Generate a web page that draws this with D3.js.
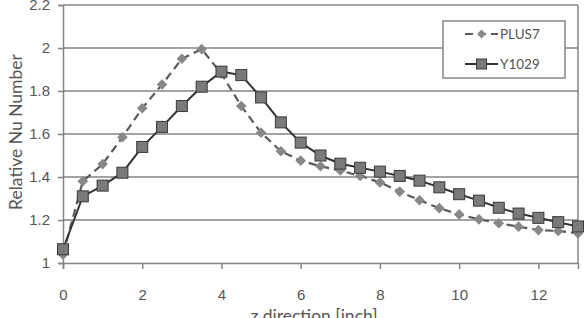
<!DOCTYPE html>
<html><head><meta charset="utf-8">
<script src="https://cdn.jsdelivr.net/npm/d3@7"></script>
<style>
body{margin:0;background:#fff;}
svg{display:block;font-family:Lato,"Open Sans",sans-serif;}
</style></head>
<body><svg id="c" width="587" height="318"></svg>
<script>
const zValues = [0,0.5,1,1.5,2,2.5,3,3.5,4,4.5,5,5.5,6,6.5,7,7.5,8,8.5,9,9.5,10,10.5,11,11.5,12,12.5,13];
const plus7 = [1.04,1.38,1.46,1.585,1.72,1.83,1.95,1.995,1.88,1.73,1.606,1.52,1.476,1.45,1.43,1.405,1.375,1.332,1.292,1.255,1.226,1.203,1.185,1.169,1.153,1.149,1.138];
const y1029 = [1.064,1.31,1.36,1.42,1.54,1.633,1.73,1.82,1.89,1.874,1.77,1.654,1.56,1.50,1.462,1.443,1.425,1.405,1.383,1.352,1.32,1.29,1.257,1.23,1.21,1.19,1.17];
const xTicks = [0,2,4,6,8,10,12];
const yTicks = [1,1.2,1.4,1.6,1.8,2,2.2];
const seriesNames = ["PLUS7","Y1029"];

const svg = d3.select("#c");
const x = d3.scaleLinear().domain([0,13]).range([63,578]);
const y = d3.scaleLinear().domain([1,2.2]).range([263,5]);
const grid = "#858585";

// gridlines
svg.append("g").selectAll("line").data(yTicks.filter(d=>d>1)).join("line")
  .attr("x1",63).attr("x2",578).attr("y1",d=>y(d)).attr("y2",d=>y(d))
  .attr("stroke",grid).attr("stroke-width",1.5);
// right border
svg.append("line").attr("x1",578).attr("x2",578).attr("y1",y(2.2)).attr("y2",y(1))
  .attr("stroke",grid).attr("stroke-width",1.5);

// axes
const xAxis = d3.axisBottom(x).tickValues(xTicks).tickSize(6).tickPadding(20).tickFormat(d3.format("d"));
const gx = svg.append("g").attr("transform",`translate(0,${y(1)})`).call(xAxis);
gx.select(".domain").attr("stroke",grid).attr("stroke-width",1.5);
gx.selectAll(".tick line").attr("stroke",grid).attr("stroke-width",1.5);
gx.selectAll("text").attr("fill","#555").style("font-size","15px");

const yAxis = d3.axisLeft(y).tickValues(yTicks).tickSize(5).tickPadding(8).tickFormat(d=>String(+d.toFixed(1)));
const gy = svg.append("g").attr("transform",`translate(${x(0)},0)`).call(yAxis);
gy.select(".domain").attr("stroke",grid).attr("stroke-width",1.5);
gy.selectAll(".tick line").attr("stroke",grid).attr("stroke-width",1.5);
gy.selectAll("text").attr("fill","#555").style("font-size","15px");

// titles
svg.append("text").attr("transform","translate(22,132) rotate(-90)").attr("text-anchor","middle")
  .attr("fill","#555").style("font-size","17.5px").text("Relative Nu Number");
svg.append("text").attr("x",314).attr("y",322).attr("text-anchor","middle")
  .attr("fill","#555").style("font-size","17.5px").text("z direction [inch]");

const line = d3.line().x(d=>x(d[0])).y(d=>y(d[1]));
const dPlus = zValues.map((z,i)=>[z,plus7[i]]);
const dY = zValues.map((z,i)=>[z,y1029[i]]);

svg.append("path").datum(dPlus).attr("d",line).attr("fill","none")
  .attr("stroke","#5a5a5a").attr("stroke-width",2.2).attr("stroke-dasharray","8,5");
svg.append("path").datum(dY).attr("d",line).attr("fill","none")
  .attr("stroke","#333").attr("stroke-width",2);

const diamond = d3.symbol().type(d3.symbolDiamond2).size(72);
svg.append("g").selectAll("path").data(dPlus).join("path")
  .attr("transform",d=>`translate(${x(d[0])},${y(d[1])})`).attr("d",diamond).attr("fill","#878787");
svg.append("g").selectAll("rect").data(dY).join("rect")
  .attr("x",d=>x(d[0])-5.5).attr("y",d=>y(d[1])-5.5).attr("width",11).attr("height",11)
  .attr("fill","#7a7a7a").attr("stroke","#3a3a3a").attr("stroke-width",1);

// legend
const lg = svg.append("g");
lg.append("rect").attr("x",443).attr("y",21).attr("width",122).attr("height",57)
  .attr("fill","#fff").attr("stroke",grid).attr("stroke-width",1.5);
const ly = [34,64];
lg.append("line").attr("x1",465).attr("x2",498).attr("y1",ly[0]).attr("y2",ly[0])
  .attr("stroke","#5a5a5a").attr("stroke-width",2.2).attr("stroke-dasharray","8,5");
lg.append("path").attr("transform",`translate(481.5,${ly[0]})`).attr("d",d3.symbol().type(d3.symbolDiamond2).size(50)).attr("fill","#878787");
lg.append("line").attr("x1",465).attr("x2",498).attr("y1",ly[1]).attr("y2",ly[1])
  .attr("stroke","#333").attr("stroke-width",2);
lg.append("rect").attr("x",476.5).attr("y",ly[1]-5).attr("width",10).attr("height",10)
  .attr("fill","#7a7a7a").attr("stroke","#3a3a3a");
lg.selectAll("text.l").data(seriesNames).join("text").attr("class","l")
  .attr("x",500).attr("y",(d,i)=>ly[i]).attr("dy","0.35em")
  .attr("fill","#555").style("font-size","13.5px").text(d=>d);
</script></body></html>
